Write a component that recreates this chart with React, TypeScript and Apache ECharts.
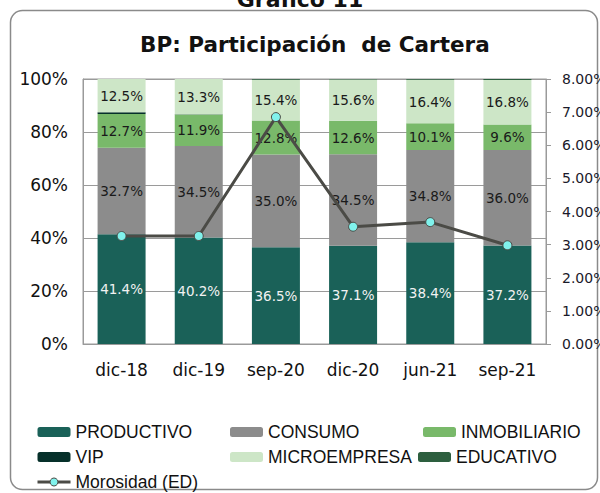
import React, { useEffect, useRef } from "react";
import * as echarts from "echarts";

const categories = ["dic-18", "dic-19", "sep-20", "dic-20", "jun-21", "sep-21"];
const productivo = [41.4, 40.2, 36.5, 37.1, 38.4, 37.2];
const consumo = [32.7, 34.5, 35.0, 34.5, 34.8, 36.0];
const inmobiliario = [12.7, 11.9, 12.8, 12.6, 10.1, 9.6];
const vip = [0.7, 0.1, 0.0, 0.0, 0.0, 0.0];
const microempresa = [12.5, 13.3, 15.4, 15.6, 16.4, 16.8];
const educativo = [0.0, 0.0, 0.3, 0.2, 0.3, 0.4];
const morosidad = [3.26, 3.26, 6.85, 3.54, 3.68, 2.98];
const leftTicks = { min: 0, max: 100, interval: 20 };
const rightTicks = { min: 0, max: 8, interval: 1 };

const FONT = "DejaVu Sans";
const LEGEND_FONT = "Liberation Sans";
const LINE_COLOR = "#4b4b46";

export default function App() {
  const ref = useRef<HTMLDivElement>(null);
  useEffect(() => {
    if (!ref.current) return;
    const chart = echarts.init(ref.current, undefined, { renderer: "svg" });
    const lbl = (color: string) => ({
      show: true,
      position: "inside",
      color,
      fontFamily: FONT,
      fontSize: 13.5,
      formatter: (p: any) => p.value.toFixed(1) + "%",
    });
    const bar = (name: string, data: number[], color: string, label: any) => ({
      name,
      type: "bar",
      stack: "total",
      data,
      barWidth: 48,
      itemStyle: { color },
      label,
    });
    const legendText = { fontFamily: LEGEND_FONT, fontSize: 17.5, color: "#111", lineHeight: 20 };
    const legendBase = {
      orient: "vertical",
      padding: 0,
      itemWidth: 33,
      itemHeight: 10,
      itemGap: 5,
      textStyle: legendText,
    };
    chart.setOption({
      animation: false,
      backgroundColor: "#ffffff",
      title: {
        text: "BP: Participación  de Cartera",
        left: 135,
        top: 28,
        textStyle: { fontFamily: FONT, fontSize: 21.5, fontWeight: "bold", color: "#111" },
      },
      graphic: [
        {
          type: "rect",
          shape: { x: 10.5, y: 10.5, width: 587, height: 479, r: 12 },
          style: { fill: "none", stroke: "#8a8a8a", lineWidth: 1.5 },
          silent: true,
        },
        {
          type: "text",
          x: 300,
          y: 10,
          style: {
            text: "Gráfico 11",
            fontFamily: FONT,
            fontSize: 22,
            fontWeight: "bold",
            fill: "#111",
            textAlign: "center",
            textVerticalAlign: "bottom",
          },
        },
      ],
      grid: {
        left: 83,
        right: 54,
        top: 79,
        bottom: 149,
        outerBoundsMode: "none",
        containLabel: false,
        show: true,
        borderColor: "#9a9a9a",
        borderWidth: 1,
        backgroundColor: "transparent",
      },
      legend: [
        {
          ...legendBase,
          left: 36,
          top: 422,
          data: [
            "PRODUCTIVO",
            "VIP",
            {
              name: "Morosidad (ED)",
              lineStyle: { width: 3, color: LINE_COLOR },
              itemStyle: { color: "#80f2ec", borderColor: LINE_COLOR, borderWidth: 1 },
            },
          ],
        },
        { ...legendBase, left: 230, top: 422, data: ["CONSUMO", "MICROEMPRESA"] },
        { ...legendBase, left: 423, top: 422, data: ["INMOBILIARIO"] },
        { ...legendBase, left: 418, top: 447, data: ["EDUCATIVO"] },
      ],
      xAxis: {
        type: "category",
        data: categories,
        axisLine: { show: true, lineStyle: { color: "#9a9a9a" } },
        axisTick: { show: false },
        axisLabel: { fontFamily: FONT, fontSize: 17, color: "#111", margin: 17 },
      },
      yAxis: [
        {
          type: "value",
          ...leftTicks,
          axisLine: { show: true, lineStyle: { color: "#9a9a9a" } },
          axisTick: { show: false },
          splitLine: { show: true, lineStyle: { color: "#9a9a9a", width: 1 } },
          axisLabel: {
            fontFamily: FONT,
            fontSize: 17,
            color: "#111",
            margin: 15,
            formatter: (v: number) => v + "%",
          },
        },
        {
          type: "value",
          ...rightTicks,
          position: "right",
          axisLine: { show: true, lineStyle: { color: "#9a9a9a" } },
          axisTick: { show: true, length: 5, inside: false, lineStyle: { color: "#9a9a9a" } },
          splitLine: { show: false },
          axisLabel: {
            fontFamily: FONT,
            fontSize: 14,
            color: "#1a1a2a",
            margin: 16,
            formatter: (v: number) => v.toFixed(2) + "%",
          },
        },
      ],
      series: [
        bar("PRODUCTIVO", productivo, "#1a6158", lbl("#f2f2f2")),
        bar("CONSUMO", consumo, "#8c8c8c", lbl("#1a1a1a")),
        bar("INMOBILIARIO", inmobiliario, "#79b96a", lbl("#1a1a1a")),
        bar("VIP", vip, "#06302a", { show: false }),
        bar("MICROEMPRESA", microempresa, "#cde6c7", lbl("#1a1a1a")),
        bar("EDUCATIVO", educativo, "#2d5f3f", { show: false }),
        {
          name: "Morosidad (ED)",
          type: "line",
          yAxisIndex: 1,
          data: morosidad,
          z: 10,
          symbol: "circle",
          symbolSize: 9,
          lineStyle: { color: LINE_COLOR, width: 3 },
          itemStyle: { color: "#80f2ec", borderColor: LINE_COLOR, borderWidth: 1 },
        },
      ],
    });
    return () => chart.dispose();
  }, []);
  return (
    <div
      ref={ref}
      style={{ position: "fixed", left: 0, top: 0, width: 600, height: 493 }}
    />
  );
}
